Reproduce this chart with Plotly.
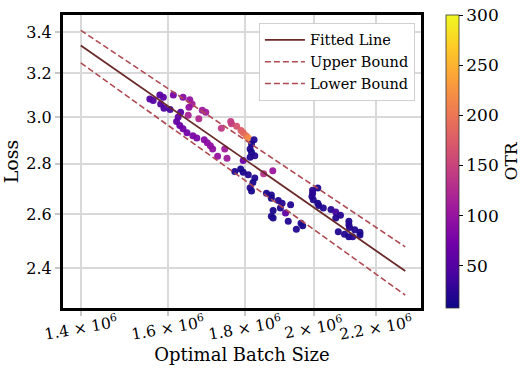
import numpy as np
import plotly.graph_objects as go

# optimal batch size (x1e6), loss, OTR
batch_m = [1.556, 1.564, 1.580, 1.5885, 1.582, 1.590, 1.605, 1.613, 1.631, 1.625,
           1.621, 1.629, 1.637, 1.647, 1.662, 1.672, 1.637, 1.654, 1.660, 1.652,
           1.650, 1.677, 1.686, 1.695, 1.691, 1.699, 1.707, 1.713, 1.726, 1.745,
           1.751, 1.736, 1.761, 1.763, 1.777, 1.789, 1.795, 1.803, 1.809, 1.825,
           1.818, 1.814, 1.818, 1.814, 1.827, 1.795, 1.788, 1.772, 1.795, 1.809,
           1.852, 1.878, 1.827, 1.822, 1.814, 1.818, 1.860, 1.874, 1.874, 1.894,
           1.905, 1.900, 1.930, 1.879, 1.874, 1.879, 1.915, 1.923, 1.961, 1.966,
           1.947, 1.996, 1.996, 1.994, 1.998, 2.012, 2.012, 2.015, 2.029, 2.053,
           2.068, 2.083, 2.068, 2.110, 2.110, 2.112, 2.129, 2.146, 2.146, 2.076,
           2.096, 2.110, 2.122]
loss = [3.081, 3.074, 3.099, 3.089, 3.059, 3.040, 3.034, 3.099, 3.022, 3.000,
        2.981, 2.963, 2.949, 2.931, 2.919, 2.909, 3.089, 3.078, 3.059, 3.044,
        3.008, 2.993, 3.030, 3.022, 2.901, 2.889, 2.876, 2.862, 2.831, 2.862,
        2.823, 2.951, 2.981, 2.971, 2.960, 2.941, 2.931, 2.919, 2.909, 2.901,
        2.883, 2.862, 2.848, 2.827, 2.834, 2.814, 2.779, 2.768, 2.765, 2.755,
        2.759, 2.772, 2.742, 2.724, 2.703, 2.690, 2.681, 2.674, 2.661, 2.652,
        2.642, 2.623, 2.636, 2.614, 2.591, 2.585, 2.604, 2.572, 2.565, 2.555,
        2.542, 2.693, 2.681, 2.668, 2.655, 2.702, 2.642, 2.633, 2.623, 2.617,
        2.608, 2.595, 2.585, 2.572, 2.559, 2.549, 2.540, 2.531, 2.521, 2.533,
        2.523, 2.514, 2.514]
otr = [50, 52, 55, 58, 50, 48, 42, 75, 52, 62,
       62, 68, 70, 72, 78, 80, 88, 98, 112, 98,
       118, 125, 108, 110, 90, 92, 95, 95, 100, 110,
       108, 140, 142, 145, 165, 175, 185, 195, 218, 20,
       15, 18, 15, 18, 20, 70, 15, 18, 15, 20,
       130, 105, 18, 15, 20, 15, 15, 18, 15, 20,
       22, 18, 20, 15, 18, 15, 60, 20, 18, 15,
       20, 25, 25, 22, 20, 18, 15, 18, 20, 22,
       40, 22, 20, 18, 20, 22, 18, 20, 15, 18,
       20, 15, 22]

# fitted line and bounds (end points)
fit_x_m = [1.4, 2.3]
fit_y = [3.335, 2.39]
upper_y = [3.41, 2.477]
lower_y = [3.25, 2.307]

x_ticks_m = [1.4, 1.6, 1.8, 2.0, 2.2]
x_tick_text = ["1.4 × 10<sup>6</sup>", "1.6 × 10<sup>6</sup>", "1.8 × 10<sup>6</sup>",
               "2 × 10<sup>6</sup>", "2.2 × 10<sup>6</sup>"]
y_ticks = [2.4, 2.6, 2.8, 3.0, 3.2, 3.4]

FONT = "DejaVu Serif"
batch = [b * 1e6 for b in batch_m]
fit_x = [b * 1e6 for b in fit_x_m]

fig = go.Figure()

fig.add_trace(go.Scatter(
    x=batch, y=loss, mode="markers", showlegend=False,
    marker=dict(size=7, color=otr, colorscale="Plasma", cmin=8, cmax=300,
                opacity=0.95, line=dict(width=0),
                colorbar=dict(
                    x=1.07, xanchor="left", xpad=0, y=0.5, ypad=0, len=1.0,
                    thickness=13, outlinewidth=0.8, outlinecolor="#333333",
                    tickvals=[50, 100, 150, 200, 250, 300],
                    ticks="outside", ticklen=4, tickcolor="black",
                    tickfont=dict(family=FONT, size=17, color="black"),
                    title=dict(text="OTR", side="right",
                               font=dict(family=FONT, size=17, color="black")),
                )),
))

fig.add_trace(go.Scatter(x=fit_x, y=fit_y, mode="lines", name="Fitted Line",
                         line=dict(color="#6b2a2a", width=1.8)))
fig.add_trace(go.Scatter(x=fit_x, y=upper_y, mode="lines", name="Upper Bound",
                         line=dict(color="#b04a52", width=1.6, dash="6px,3px")))
fig.add_trace(go.Scatter(x=fit_x, y=lower_y, mode="lines", name="Lower Bound",
                         line=dict(color="#b04a52", width=1.6, dash="6px,3px")))

# x tick labels, slightly rotated and centred on their ticks
for v, t in zip(x_ticks_m, x_tick_text):
    fig.add_annotation(x=np.log10(v * 1e6), y=-0.068, xref="x", yref="paper",
                       text=t, showarrow=False, textangle=-10,
                       xanchor="center", yanchor="middle",
                       font=dict(family=FONT, size=15.5, color="black"))

fig.update_xaxes(
    type="log", range=[6.1343, 6.3722],
    tickvals=[v * 1e6 for v in x_ticks_m], showticklabels=False,
    showgrid=True, gridcolor="#d9d9d9", gridwidth=1.6,
    ticks="outside", ticklen=5, tickcolor="#c8c8c8", tickwidth=1.5,
    showline=True, mirror=True, linecolor="black", linewidth=3,
    zeroline=False, automargin=False,
    title=dict(text="Optimal Batch Size", standoff=34,
               font=dict(family=FONT, size=18, color="black")),
)
fig.update_yaxes(
    type="log", range=[0.3547, 0.5426],
    tickvals=y_ticks, ticktext=[f"{v:.1f}" for v in y_ticks],
    tickfont=dict(family=FONT, size=16, color="black"),
    showgrid=True, gridcolor="#d9d9d9", gridwidth=1.6,
    ticks="outside", ticklen=5, tickcolor="#c8c8c8", tickwidth=1.5,
    showline=True, mirror=True, linecolor="black", linewidth=3,
    zeroline=False, automargin=False,
    title=dict(text="Loss", standoff=6,
               font=dict(family=FONT, size=19, color="black")),
)

fig.update_layout(
    width=529, height=378,
    margin=dict(l=63, r=108, t=15, b=70, autoexpand=False),
    paper_bgcolor="white", plot_bgcolor="white",
    font=dict(family=FONT, color="black"),
    legend=dict(x=0.983, y=0.973, xanchor="right", yanchor="top",
                bgcolor="white", bordercolor="#d0d0d0", borderwidth=1,
                itemwidth=40, tracegroupgap=0,
                font=dict(family=FONT, size=14.5, color="black")),
)

# the page body has a default margin; drop it so the figure sits at the corner
fig.write_html("out.html", config={"displayModeBar": False},
               post_script="document.body.style.margin='0';")
